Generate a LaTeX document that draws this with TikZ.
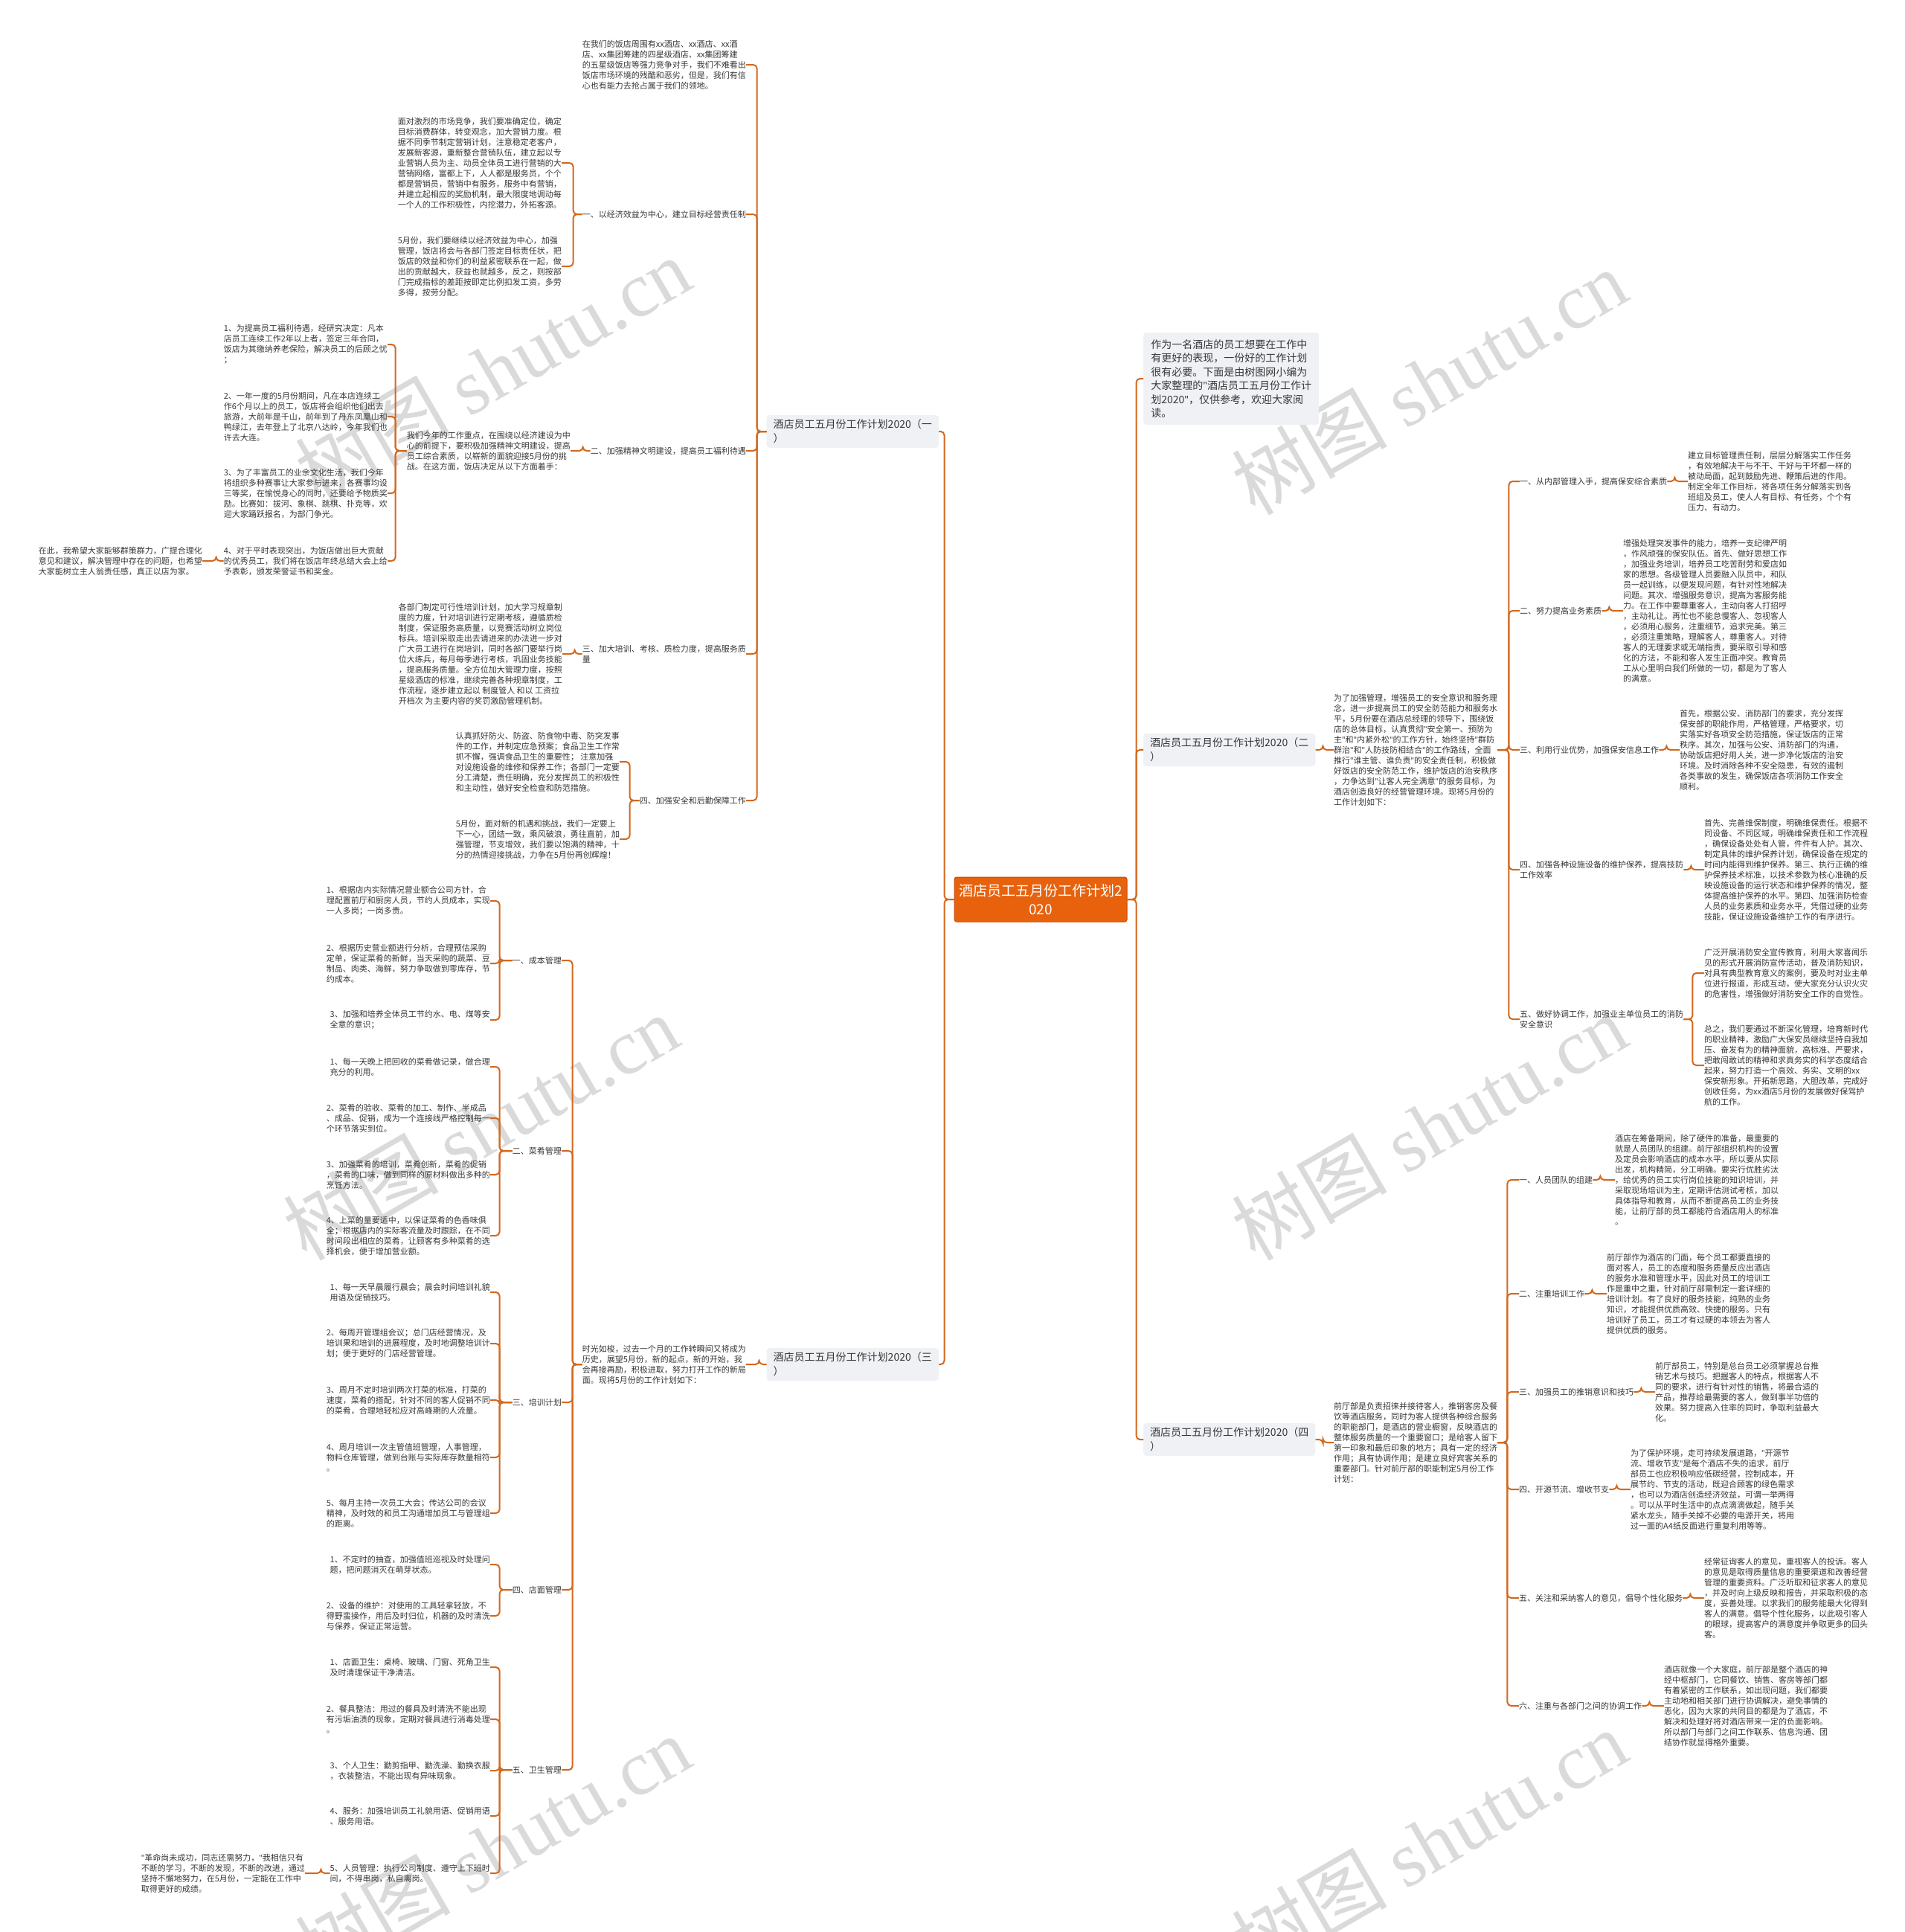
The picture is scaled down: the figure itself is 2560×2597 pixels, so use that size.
\documentclass[tikz,border=0pt]{standalone}
\usepackage{fontspec}
\setmainfont{Noto Sans CJK SC}
\newfontfamily\wmserif{Liberation Serif}
\newfontfamily\qfont{Noto Sans}
\newcommand\q{{\qfont"}}
\usetikzlibrary{calc}
\definecolor{lc}{RGB}{211,104,30}
\definecolor{tc}{RGB}{55,55,55}
\definecolor{boxc}{RGB}{239,241,245}
\definecolor{rootc}{RGB}{232,98,14}
\definecolor{rootb}{RGB}{196,78,8}
\definecolor{wm}{RGB}{218,218,218}
\tikzset{
 conn/.style={draw=lc, line width=2pt, rounded corners=5pt},
 txt/.style={font=\fontsize{11}{14}\selectfont, text=tc, align=left, inner sep=0pt},
 lvl/.style={fill=boxc, rounded corners=4pt, font=\fontsize{14}{19}\selectfont, text=tc, align=left, inner xsep=9pt, inner ysep=4pt, minimum width=231pt, minimum height=44pt},
 rootn/.style={fill=rootc, draw=rootb, line width=1pt, rounded corners=3pt, font=\fontsize{19}{25}\selectfont, text=white, align=center, minimum width=232pt, minimum height=60pt, inner sep=4pt},
 wmk/.style={text=wm, rotate=30, font=\fontsize{105}{110}\selectfont}
}
\newcommand\lc[3]{\draw[conn] (#1.west) -- ++(-#3,0) |- (#2.east);}
\newcommand\rc[3]{\draw[conn] (#1.east) -- ++(#3,0) |- (#2.west);}
\begin{document}
\begin{tikzpicture}[x=1pt,y=-1pt]
\useasboundingbox (0,0) rectangle (2560,2597);
\fill[white] (0,0) rectangle (2560,2597);
% watermarks
\node[wmk] (w1) at (662,497) {树图 {\wmserif shutu.cn}};
\node[wmk] (w2) at (1921,513) {树图 {\wmserif shutu.cn}};
\node[wmk] (w3) at (646,1515) {树图 {\wmserif shutu.cn}};
\node[wmk] (w4) at (1921,1515) {树图 {\wmserif shutu.cn}};
\node[wmk] (w5) at (662,2484) {树图 {\wmserif shutu.cn}};
\node[wmk] (w6) at (1921,2476) {树图 {\wmserif shutu.cn}};

% root and level 1
\node[rootn] (root) at (1399,1209) {酒店员工五月份工作计划2\\020};
\node[lvl,anchor=east] (L1) at (1262,580) {酒店员工五月份工作计划2020（一\\）};
\node[lvl,anchor=east] (L3) at (1262,1834) {酒店员工五月份工作计划2020（三\\）};
\node[lvl,anchor=west,font=\fontsize{14}{18.5}\selectfont,inner xsep=8pt,minimum width=236pt,minimum height=124pt] (R0) at (1537,509) {作为一名酒店的员工想要在工作中\\有更好的表现，一份好的工作计划\\很有必要。下面是由树图网小编为\\大家整理的\q 酒店员工五月份工作计\\划2020\q，仅供参考，欢迎大家阅\\读。};
\node[lvl,anchor=west] (R2) at (1537,1008) {酒店员工五月份工作计划2020（二\\）};
\node[lvl,anchor=west] (R4) at (1537,1935) {酒店员工五月份工作计划2020（四\\）};
\lc{root}{L1}{13} \lc{root}{L3}{13}
\rc{root}{R0}{12} \rc{root}{R2}{12} \rc{root}{R4}{12}

% ===== (一) =====
\node[txt,anchor=east] (a0) at (1003,87) {在我们的饭店周围有xx酒店、xx酒店、xx酒\\店、xx集团筹建的四星级酒店、xx集团筹建\\的五星级饭店等强力竞争对手，我们不难看出\\饭店市场环境的残酷和恶劣，但是，我们有信\\心也有能力去抢占属于我们的领地。};
\node[txt,anchor=east] (a1) at (1003,288) {一、以经济效益为中心，建立目标经营责任制};
\node[txt,anchor=east] (a2) at (1003,606) {二、加强精神文明建设，提高员工福利待遇};
\node[txt,anchor=east] (a3) at (1003,879) {三、加大培训、考核、质检力度，提高服务质\\量};
\node[txt,anchor=east] (a4) at (1003,1076) {四、加强安全和后勤保障工作};
\lc{L1}{a0}{13} \lc{L1}{a1}{13} \lc{L1}{a2}{13} \lc{L1}{a3}{13} \lc{L1}{a4}{13}

\node[txt,anchor=east] (a11) at (755,219) {面对激烈的市场竞争，我们要准确定位，确定\\目标消费群体，转变观念，加大营销力度。根\\据不同季节制定营销计划，注意稳定老客户，\\发展新客源，重新整合营销队伍，建立起以专\\业营销人员为主、动员全体员工进行营销的大\\营销网络，富都上下，人人都是服务员，个个\\都是营销员，营销中有服务，服务中有营销，\\并建立起相应的奖励机制，最大限度地调动每\\一个人的工作积极性，内挖潜力，外拓客源。};
\node[txt,anchor=east] (a12) at (755,358) {5月份，我们要继续以经济效益为中心，加强\\管理，饭店将会与各部门签定目标责任状，把\\饭店的效益和你们的利益紧密联系在一起，做\\出的贡献越大，获益也就越多，反之，则按部\\门完成指标的差距按即定比例扣发工资，多劳\\多得，按劳分配。};
\lc{a1}{a11}{12} \lc{a1}{a12}{12}

\node[txt,anchor=east] (a21) at (767,606) {我们今年的工作重点，在围绕以经济建设为中\\心的前提下，要积极加强精神文明建设，提高\\员工综合素质，以崭新的面貌迎接5月份的挑\\战。在这方面，饭店决定从以下方面着手：};
\lc{a2}{a21}{10}
\node[txt,anchor=east] (a211) at (521,463) {1、为提高员工福利待遇，经研究决定：凡本\\店员工连续工作2年以上者，签定三年合同，\\饭店为其缴纳养老保险，解决员工的后顾之忧\\；};
\node[txt,anchor=east] (a212) at (521,560) {2、一年一度的5月份期间，凡在本店连续工\\作6个月以上的员工，饭店将会组织他们出去\\旅游，大前年是千山，前年到了丹东凤凰山和\\鸭绿江，去年登上了北京八达岭，今年我们也\\许去大连。};
\node[txt,anchor=east] (a213) at (521,663) {3、为了丰富员工的业余文化生活，我们今年\\将组织多种赛事让大家参与进来，各赛事均设\\三等奖，在愉悦身心的同时，还要给予物质奖\\励。比赛如：拔河、象棋、跳棋、扑克等，欢\\迎大家踊跃报名，为部门争光。};
\node[txt,anchor=east] (a214) at (521,754) {4、对于平时表现突出，为饭店做出巨大贡献\\的优秀员工，我们将在饭店年终总结大会上给\\予表彰，颁发荣誉证书和奖金。};
\lc{a21}{a211}{15} \lc{a21}{a212}{15} \lc{a21}{a213}{15} \lc{a21}{a214}{15}
\node[txt,anchor=east] (a2141) at (272,754) {在此，我希望大家能够群策群力，广提合理化\\意见和建议，解决管理中存在的问题，也希望\\大家能树立主人翁责任感，真正以店为家。};
\lc{a214}{a2141}{10}

\node[txt,anchor=east] (a31) at (756,879) {各部门制定可行性培训计划，加大学习规章制\\度的力度，针对培训进行定期考核，遵循质检\\制度，保证服务高质量，以竞赛活动树立岗位\\标兵。培训采取走出去请进来的办法进一步对\\广大员工进行在岗培训，同时各部门要举行岗\\位大练兵，每月每季进行考核，巩固业务技能\\，提高服务质量。全方位加大管理力度，按照\\星级酒店的标准，继续完善各种规章制度，工\\作流程，逐步建立起以 制度管人 和以 工资拉\\开档次 为主要内容的奖罚激励管理机制。};
\lc{a3}{a31}{10}

\node[txt,anchor=east] (a41) at (833,1024) {认真抓好防火、防盗、防食物中毒、防突发事\\件的工作，并制定应急预案；食品卫生工作常\\抓不懈，强调食品卫生的重要性； 注意加强\\对设施设备的维修和保养工作；各部门一定要\\分工清楚，责任明确，充分发挥员工的积极性\\和主动性，做好安全检查和防范措施。};
\node[txt,anchor=east] (a42) at (833,1128) {5月份，面对新的机遇和挑战，我们一定要上\\下一心，团结一致，乘风破浪，勇往直前，加\\强管理，节支增效，我们要以饱满的精神，十\\分的热情迎接挑战，力争在5月份再创辉煌！};
\lc{a4}{a41}{13} \lc{a4}{a42}{13}

% ===== (三) =====
\node[txt,anchor=east] (b0) at (1003,1834) {时光如梭，过去一个月的工作转瞬间又将成为\\历史，展望5月份，新的起点，新的开始，我\\会再接再励，积极进取，努力打开工作的新局\\面。现将5月份的工作计划如下：};
\lc{L3}{b0}{10}
\node[txt,anchor=east] (b1) at (755,1291) {一、成本管理};
\node[txt,anchor=east] (b2) at (755,1547) {二、菜肴管理};
\node[txt,anchor=east] (b3) at (755,1885) {三、培训计划};
\node[txt,anchor=east] (b4) at (755,2137) {四、店面管理};
\node[txt,anchor=east] (b5) at (755,2379) {五、卫生管理};
\lc{b0}{b1}{13} \lc{b0}{b2}{13} \lc{b0}{b3}{13} \lc{b0}{b4}{13} \lc{b0}{b5}{13}

\node[txt,anchor=east] (b11) at (659,1211) {1、根据店内实际情况营业额合公司方针，合\\理配置前厅和厨房人员，节约人员成本，实现\\一人多岗；一岗多责。};
\node[txt,anchor=east] (b12) at (659,1295) {2、根据历史营业额进行分析，合理预估采购\\定单，保证菜肴的新鲜，当天采购的蔬菜、豆\\制品、肉类、海鲜，努力争取做到零库存，节\\约成本。};
\node[txt,anchor=east] (b13) at (659,1371) {3、加强和培养全体员工节约水、电、煤等安\\全意的意识；};
\lc{b1}{b11}{17} \lc{b1}{b12}{17} \lc{b1}{b13}{17}

\node[txt,anchor=east] (b21) at (659,1434) {1、每一天晚上把回收的菜肴做记录，做合理\\充分的利用。};
\node[txt,anchor=east] (b22) at (659,1503) {2、菜肴的验收、菜肴的加工、制作、半成品\\、成品、促销，成为一个连接线严格控制每一\\个环节落实到位。};
\node[txt,anchor=east] (b23) at (659,1579) {3、加强菜肴的培训，菜肴创新，菜肴的促销\\，菜肴的口味，做到同样的原材料做出多种的\\烹饪方法。};
\node[txt,anchor=east] (b24) at (659,1661) {4、上菜的量要适中，以保证菜肴的色香味俱\\全；根据店内的实际客流量及时跟踪，在不同\\时间段出相应的菜肴，让顾客有多种菜肴的选\\择机会，便于增加营业额。};
\lc{b2}{b21}{17} \lc{b2}{b22}{17} \lc{b2}{b23}{17} \lc{b2}{b24}{17}

\node[txt,anchor=east] (b31) at (659,1737) {1、每一天早晨履行晨会；晨会时间培训礼貌\\用语及促销技巧。};
\node[txt,anchor=east] (b32) at (659,1806) {2、每周开管理组会议；总门店经营情况，及\\培训果和培训的进展程度，及时地调整培训计\\划；便于更好的门店经营管理。};
\node[txt,anchor=east] (b33) at (659,1882) {3、周月不定时培训两次打菜的标准，打菜的\\速度，菜肴的搭配，针对不同的客人促销不同\\的菜肴，合理地轻松应对高峰期的人流量。};
\node[txt,anchor=east] (b34) at (659,1959) {4、周月培训一次主管值班管理，人事管理，\\物料仓库管理，做到台账与实际库存数量相符\\。};
\node[txt,anchor=east] (b35) at (659,2034) {5、每月主持一次员工大会；传达公司的会议\\精神，及时效的和员工沟通增加员工与管理组\\的距离。};
\lc{b3}{b31}{17} \lc{b3}{b32}{17} \lc{b3}{b33}{17} \lc{b3}{b34}{17} \lc{b3}{b35}{17}

\node[txt,anchor=east] (b41) at (659,2103) {1、不定时的抽查，加强值班巡视及时处理问\\题，把问题消灭在萌芽状态。};
\node[txt,anchor=east] (b42) at (659,2172) {2、设备的维护：对使用的工具轻拿轻放，不\\得野蛮操作，用后及时归位，机器的及时清洗\\与保养，保证正常运营。};
\lc{b4}{b41}{17} \lc{b4}{b42}{17}

\node[txt,anchor=east] (b51) at (659,2241) {1、店面卫生：桌椅、玻璃、门窗、死角卫生\\及时清理保证干净清洁。};
\node[txt,anchor=east] (b52) at (659,2311) {2、餐具整洁：用过的餐具及时清洗不能出现\\有污垢油渍的现象，定期对餐具进行消毒处理\\。};
\node[txt,anchor=east] (b53) at (659,2380) {3、个人卫生：勤剪指甲、勤洗澡、勤换衣服\\，衣装整洁，不能出现有异味现象。};
\node[txt,anchor=east] (b54) at (659,2441) {4、服务：加强培训员工礼貌用语、促销用语\\、服务用语。};
\node[txt,anchor=east] (b55) at (659,2518) {5、人员管理：执行公司制度、遵守上下班时\\间，不得串岗，私自离岗。};
\lc{b5}{b51}{17} \lc{b5}{b52}{17} \lc{b5}{b53}{17} \lc{b5}{b54}{17} \lc{b5}{b55}{17}
\node[txt,anchor=east] (b551) at (410,2518) {\q 革命尚未成功，同志还需努力，\q 我相信只有\\不断的学习，不断的发现，不断的改进，通过\\坚持不懈地努力，在5月份，一定能在工作中\\取得更好的成绩。};
\lc{b55}{b551}{12}

% ===== (二) =====
\node[txt,anchor=west] (c0) at (1793,1008) {为了加强管理，增强员工的安全意识和服务理\\念，进一步提高员工的安全防范能力和服务水\\平，5月份要在酒店总经理的领导下，围绕饭\\店的总体目标，认真贯彻\q 安全第一、预防为\\主\q 和\q 内紧外松\q 的工作方针，始终坚持\q 群防\\群治\q 和\q 人防技防相结合\q 的工作路线，全面\\推行\q 谁主管、谁负责\q 的安全责任制，积极做\\好饭店的安全防范工作，维护饭店的治安秩序\\，力争达到\q 让客人完全满意\q 的服务目标，为\\酒店创造良好的经营管理环境。现将5月份的\\工作计划如下：};
\rc{R2}{c0}{10}
\node[txt,anchor=west] (c1) at (2043,647) {一、从内部管理入手，提高保安综合素质};
\node[txt,anchor=west] (c2) at (2043,821) {二、努力提高业务素质};
\node[txt,anchor=west] (c3) at (2043,1008) {三、利用行业优势，加强保安信息工作};
\node[txt,anchor=west] (c4) at (2043,1169) {四、加强各种设施设备的维护保养，提高技防\\工作效率};
\node[txt,anchor=west] (c5) at (2043,1370) {五、做好协调工作，加强业主单位员工的消防\\安全意识};
\rc{c0}{c1}{15} \rc{c0}{c2}{15} \rc{c0}{c3}{15} \rc{c0}{c4}{15} \rc{c0}{c5}{15}

\node[txt,anchor=west] (c11) at (2269,647) {建立目标管理责任制，层层分解落实工作任务\\，有效地解决干与不干、干好与干坏都一样的\\被动局面，起到鼓励先进、鞭策后进的作用。\\制定全年工作目标，将各项任务分解落实到各\\班组及员工，使人人有目标、有任务，个个有\\压力、有动力。};
\rc{c1}{c11}{10}
\node[txt,anchor=west] (c21) at (2182,821) {增强处理突发事件的能力，培养一支纪律严明\\，作风顽强的保安队伍。首先、做好思想工作\\，加强业务培训，培养员工吃苦耐劳和爱店如\\家的思想。各级管理人员要融入队员中，和队\\员一起训练，以便发现问题，有针对性地解决\\问题。其次、增强服务意识，提高为客服务能\\力。在工作中要尊重客人，主动向客人打招呼\\，主动礼让。再忙也不能怠慢客人、忽视客人\\，必须用心服务，注重细节，追求完美。第三\\，必须注重策略，理解客人，尊重客人。对待\\客人的无理要求或无端指责，要采取引导和感\\化的方法，不能和客人发生正面冲突。教育员\\工从心里明白我们所做的一切，都是为了客人\\的满意。};
\rc{c2}{c21}{10}
\node[txt,anchor=west] (c31) at (2258,1008) {首先，根据公安、消防部门的要求，充分发挥\\保安部的职能作用，严格管理，严格要求，切\\实落实好各项安全防范措施，保证饭店的正常\\秩序。其次，加强与公安、消防部门的沟通，\\协助饭店把好用人关，进一步净化饭店的治安\\环境。及时消除各种不安全隐患，有效的遏制\\各类事故的发生，确保饭店各项消防工作安全\\顺利。};
\rc{c3}{c31}{10}
\node[txt,anchor=west] (c41) at (2291,1169) {首先、完善维保制度，明确维保责任。根据不\\同设备、不同区域，明确维保责任和工作流程\\，确保设备处处有人管，件件有人护。其次、\\制定具体的维护保养计划，确保设备在规定的\\时间内能得到维护保养。第三、执行正确的维\\护保养技术标准，以技术参数为核心准确的反\\映设施设备的运行状态和维护保养的情况，整\\体提高维护保养的水平。第四、加强消防检查\\人员的业务素质和业务水平，凭借过硬的业务\\技能，保证设施设备维护工作的有序进行。};
\rc{c4}{c41}{10}
\node[txt,anchor=west] (c51) at (2291,1308) {广泛开展消防安全宣传教育，利用大家喜闻乐\\见的形式开展消防宣传活动，普及消防知识，\\对具有典型教育意义的案例，要及时对业主单\\位进行报道，形成互动，使大家充分认识火灾\\的危害性，增强做好消防安全工作的自觉性。};
\node[txt,anchor=west] (c52) at (2291,1432) {总之，我们要通过不断深化管理，培育新时代\\的职业精神，激励广大保安员继续坚持自我加\\压、奋发有为的精神面貌，高标准、严要求，\\把敢闯敢试的精神和求真务实的科学态度结合\\起来，努力打造一个高效、务实、文明的xx\\保安新形象。开拓新思路，大胆改革，完成好\\创收任务，为xx酒店5月份的发展做好保驾护\\航的工作。};
\rc{c5}{c51}{12} \rc{c5}{c52}{12}

% ===== (四) =====
\node[txt,anchor=west] (d0) at (1793,1939) {前厅部是负责招徕并接待客人，推销客房及餐\\饮等酒店服务，同时为客人提供各种综合服务\\的职能部门，是酒店的营业橱窗，反映酒店的\\整体服务质量的一个重要窗口；是给客人留下\\第一印象和最后印象的地方；具有一定的经济\\作用；具有协调作用；是建立良好宾客关系的\\重要部门。针对前厅部的职能制定5月份工作\\计划：};
\rc{R4}{d0}{10}
\node[txt,anchor=west] (d1) at (2042,1586) {一、人员团队的组建};
\node[txt,anchor=west] (d2) at (2042,1739) {二、注重培训工作};
\node[txt,anchor=west] (d3) at (2042,1871) {三、加强员工的推销意识和技巧};
\node[txt,anchor=west] (d4) at (2042,2002) {四、开源节流、增收节支};
\node[txt,anchor=west] (d5) at (2042,2148) {五、关注和采纳客人的意见，倡导个性化服务};
\node[txt,anchor=west] (d6) at (2042,2293) {六、注重与各部门之间的协调工作};
\rc{d0}{d1}{13} \rc{d0}{d2}{13} \rc{d0}{d3}{13} \rc{d0}{d4}{13} \rc{d0}{d5}{13} \rc{d0}{d6}{13}

\node[txt,anchor=west] (d11) at (2171,1586) {酒店在筹备期间，除了硬件的准备，最重要的\\就是人员团队的组建。前厅部组织机构的设置\\及定员会影响酒店的成本水平，所以要从实际\\出发，机构精简，分工明确。要实行优胜劣汰\\，给优秀的员工实行岗位技能的知识培训，并\\采取现场培训为主，定期评估测试考核，加以\\具体指导和教育，从而不断提高员工的业务技\\能，让前厅部的员工都能符合酒店用人的标准\\。};
\rc{d1}{d11}{10}
\node[txt,anchor=west] (d21) at (2160,1739) {前厅部作为酒店的门面，每个员工都要直接的\\面对客人，员工的态度和服务质量反应出酒店\\的服务水准和管理水平，因此对员工的培训工\\作是重中之重，针对前厅部需制定一套详细的\\培训计划。有了良好的服务技能，纯熟的业务\\知识，才能提供优质高效、快捷的服务。只有\\培训好了员工，员工才有过硬的本领去为客人\\提供优质的服务。};
\rc{d2}{d21}{10}
\node[txt,anchor=west] (d31) at (2225,1871) {前厅部员工，特别是总台员工必须掌握总台推\\销艺术与技巧。把握客人的特点，根据客人不\\同的要求，进行有针对性的销售，将最合适的\\产品，推荐给最需要的客人，做到事半功倍的\\效果。努力提高入住率的同时，争取利益最大\\化。};
\rc{d3}{d31}{10}
\node[txt,anchor=west] (d41) at (2192,2002) {为了保护环境，走可持续发展道路，\q 开源节\\流、增收节支\q 是每个酒店不失的追求，前厅\\部员工也应积极响应低碳经营，控制成本，开\\展节约、节支的活动，既迎合顾客的绿色需求\\，也可以为酒店创造经济效益，可谓一举两得\\。可以从平时生活中的点点滴滴做起，随手关\\紧水龙头，随手关掉不必要的电源开关，将用\\过一面的A4纸反面进行重复利用等等。};
\rc{d4}{d41}{10}
\node[txt,anchor=west] (d51) at (2291,2148) {经常征询客人的意见，重视客人的投诉。客人\\的意见是取得质量信息的重要渠道和改善经营\\管理的重要资料。广泛听取和征求客人的意见\\，并及时向上级反映和报告，并采取积极的态\\度，妥善处理。以求我们的服务能最大化得到\\客人的满意。倡导个性化服务，以此吸引客人\\的眼球，提高客户的满意度并争取更多的回头\\客。};
\rc{d5}{d51}{10}
\node[txt,anchor=west] (d61) at (2237,2293) {酒店就像一个大家庭，前厅部是整个酒店的神\\经中枢部门，它同餐饮、销售、客房等部门都\\有着紧密的工作联系，如出现问题，我们都要\\主动地和相关部门进行协调解决，避免事情的\\恶化，因为大家的共同目的都是为了酒店，不\\解决和处理好将对酒店带来一定的负面影响。\\所以部门与部门之间工作联系、信息沟通、团\\结协作就显得格外重要。};
\rc{d6}{d61}{10}
\end{tikzpicture}
\end{document}
